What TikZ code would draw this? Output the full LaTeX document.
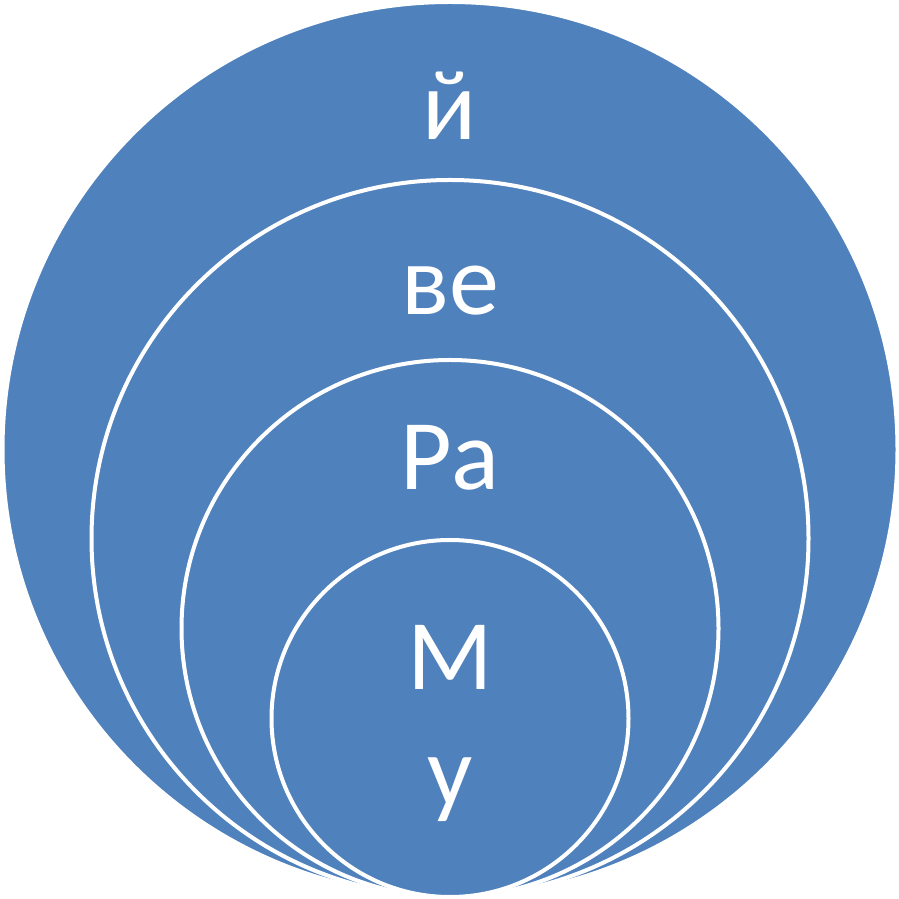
\documentclass[tikz,border=0pt]{standalone}
\usepackage{fontspec}
\setmainfont{Carlito}
\usepackage{tikz}
\usetikzlibrary{positioning}
\definecolor{ringblue}{RGB}{79,129,189}

\begin{document}
\begin{tikzpicture}[
  x=1pt,y=1pt,
  ring/.style={circle,draw=white,line width=4pt,fill=ringblue,inner sep=0pt,outer sep=0pt},
  lbl/.style={text=white,anchor=base,inner sep=0pt,font=\fontsize{100}{116}\selectfont}
]
  \useasboundingbox (0,0) rectangle (899,899);
  \node[ring,minimum size=895] (outer) at (450,449.5) {};
  \node[ring,minimum size=717] (second) at (450,360.5) {};
  \node[ring,minimum size=537] (third) at (450,270.5) {};
  \node[ring,minimum size=357] (inner) at (450,180.5) {};
  \node[lbl] (outertxt) at (450,759) {й};
  \node[lbl] (secondtxt) at (450,584) {ве};
  \node[lbl] (thirdtxt) at (450,409) {Ра};
  \node[lbl] (innertxt) at (450,209) {М};
  \node[lbl,below=116pt of innertxt.base,anchor=base] (innertxtb) {у};
\end{tikzpicture}
\end{document}
